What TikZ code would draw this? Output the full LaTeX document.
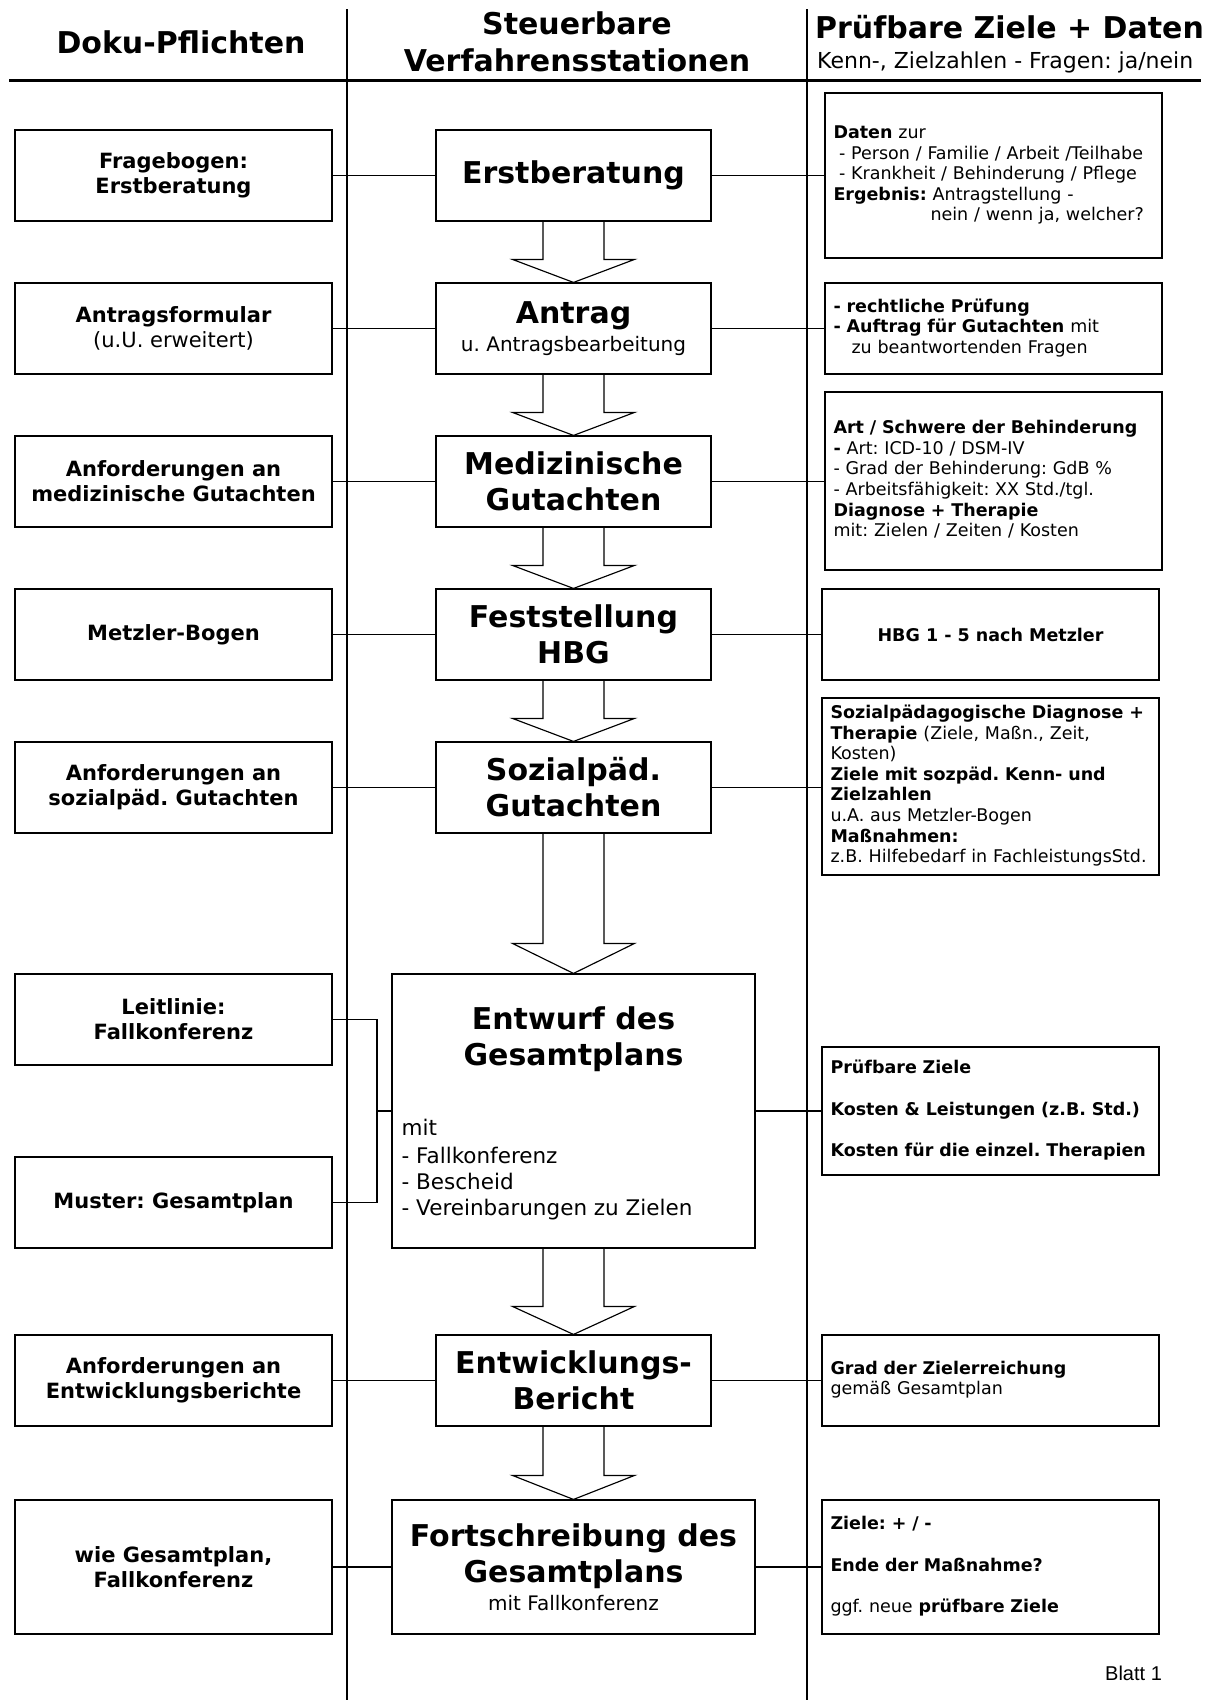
\documentclass[tikz,border=0pt]{standalone}
\usepackage{fontspec}
\setmainfont{DejaVu Sans}
\newfontfamily\arialf{Liberation Sans}
\usetikzlibrary{calc}
\frenchspacing
\newcommand\fHead{\fontsize{30}{37}\selectfont\bfseries}
\newcommand\fSub{\fontsize{22}{26}\selectfont}
\newcommand\fMid{\fontsize{30}{36}\selectfont\bfseries}
\newcommand\fMidSub{\fontsize{20}{24}\selectfont\mdseries}
\newcommand\fLeft{\fontsize{21}{25}\selectfont\bfseries}
\newcommand\fRight{\fontsize{17.5}{20.6}\selectfont}
\newcommand\fList{\fontsize{21.5}{26}\selectfont}
\newcommand\rtab[1]{\begin{tabular}{@{}l@{}}#1\end{tabular}}
\newcommand\blockarr[3]{%
  \draw[barrow] ($(#1.south)+(-30.5,0)$) -- ($(#2.north)+(-30.5,-#3)$)
    -- ($(#2.north)+(-61,-#3)$) -- (#2.north) -- ($(#2.north)+(61,-#3)$)
    -- ($(#2.north)+(30.5,-#3)$) -- ($(#1.south)+(30.5,0)$);}
\begin{document}
\frenchspacing
\begin{tikzpicture}[x=1pt,y=-1pt,
  box/.style={draw, line width=1.15pt, inner sep=0pt},
  lbox/.style={box, minimum width=317pt, minimum height=91pt, align=center, font=\fLeft},
  mbox/.style={box, minimum width=275pt, minimum height=91pt, align=center, font=\fMid},
  rbox/.style={box, text width=320pt, inner xsep=8.5pt, align=left, font=\fRight},
  txt/.style={inner sep=0pt},
  conn/.style={line width=1.2pt},
  colline/.style={line width=1.6pt},
  barrow/.style={line width=1.15pt, line join=miter}]
\fill[white] (0,0) rectangle (1211,1700);
\useasboundingbox (0,0) rectangle (1211,1700);

% column lines and header rule
\draw[colline] (347,9) -- (347,1700);
\draw[colline] (807,9) -- (807,1700);
\draw[line width=3pt] (9,80) -- (1201,80);

% headers
\node[txt, font=\fHead, anchor=base] (h1) at (181,53.5) {Doku-Pflichten};
\node[txt, font=\fHead, align=center] (h2) at (577,41.6) {Steuerbare\\Verfahrensstationen};
\node[txt, font=\fHead, anchor=base west] (h3) at (815,38.5) {Prüfbare Ziele + Daten};
\node[txt, font=\fSub, anchor=base west] (h3b) at (817,68.7) {Kenn-, Zielzahlen - Fragen: ja/nein};

% left column
\node[lbox] (l1) at (173.5,175.5) {Fragebogen:\\Erstberatung};
\node[lbox] (l2) at (173.5,328.5) {Antragsformular\\{\mdseries (u.U. erweitert)}};
\node[lbox] (l3) at (173.5,481.5) {Anforderungen an\\medizinische Gutachten};
\node[lbox] (l4) at (173.5,634.5) {Metzler-Bogen};
\node[lbox] (l5) at (173.5,787.5) {Anforderungen an\\sozialpäd. Gutachten};
\node[lbox] (lL) at (173.5,1019.5) {Leitlinie:\\Fallkonferenz};
\node[lbox] (lM) at (173.5,1202.5) {Muster: Gesamtplan};
\node[lbox] (lE) at (173.5,1380.5) {Anforderungen an\\Entwicklungsberichte};
\node[lbox, minimum height=134pt] (lW) at (173.5,1567) {wie Gesamtplan,\\Fallkonferenz};

% middle column
\node[mbox] (m1) at (573.5,175.5) {Erstberatung};
\node[mbox] (m2) at (573.5,328.5) {Antrag\\[-8.5pt]{\fMidSub u. Antragsbearbeitung}};
\node[mbox] (m3) at (573.5,481.5) {Medizinische\\Gutachten};
\node[mbox] (m4) at (573.5,634.5) {Feststellung\\HBG};
\node[mbox] (m5) at (573.5,787.5) {Sozialpäd.\\Gutachten};
\node[box, minimum width=363pt, minimum height=274pt] (ent) at (573.5,1111) {};
\node[txt, font=\fMid, align=center, text depth=0pt] (entT) at ($(ent.north)+(0,63)$) {Entwurf des\\Gesamtplans};
\node[txt, font=\fList, align=left, anchor=north west] (entL) at ($(ent.west)+(10,8)$)
  {mit\\[2pt]- Fallkonferenz\\- Bescheid\\- Vereinbarungen zu Zielen};
\node[mbox] (mE) at (573.5,1380.5) {Entwicklungs-\\Bericht};
\node[mbox, minimum width=363pt, minimum height=134pt] (mF) at (573.5,1567)
  {Fortschreibung des\\Gesamtplans\\[-8.5pt]{\fMidSub mit Fallkonferenz}};

% right column
\node[rbox, minimum height=165pt] (r1) at (993.5,175.5) {\rtab{\textbf{Daten} zur\\
  \hspace{5.5pt}- Person / Familie / Arbeit /Teilhabe\\
  \hspace{5.5pt}- Krankheit / Behinderung / Pflege\\
  \textbf{Ergebnis:} Antragstellung -\\
  \hspace{97pt}nein / wenn ja, welcher?}};
\node[rbox, minimum height=91pt] (r2) at (993.5,328.5) {\rtab{\textbf{- rechtliche Prüfung}\\
  \textbf{- Auftrag für Gutachten} mit\\
  \hspace{18pt}zu beantwortenden Fragen}};
\node[rbox, minimum height=178pt] (r3) at (993.5,481) {\rtab{\textbf{Art / Schwere der Behinderung}\\
  \textbf{-} Art: ICD-10 / DSM-IV\\
  - Grad der Behinderung: GdB \%\\
  - Arbeitsfähigkeit: XX Std./tgl.\\
  \textbf{Diagnose + Therapie}\\
  mit: Zielen / Zeiten / Kosten}};
\node[box, minimum width=337pt, minimum height=91pt, font=\fRight\bfseries] (r4) at (990.5,634.5) {HBG 1 - 5 nach Metzler};
\node[rbox, minimum height=177pt] (r5) at (990.5,786.5) {\rtab{\textbf{Sozialpädagogische Diagnose +}\\
  \textbf{Therapie} (Ziele, Maßn., Zeit,\\
  Kosten)\\
  \textbf{Ziele mit sozpäd. Kenn- und}\\
  \textbf{Zielzahlen}\\
  u.A. aus Metzler-Bogen\\
  \textbf{Maßnahmen:}\\
  z.B. Hilfebedarf in FachleistungsStd.}};
\node[rbox, minimum height=128pt] (rP) at (990.5,1111) {\rtab{\textbf{Prüfbare Ziele}\\[21.1pt]
  \textbf{Kosten \& Leistungen (z.B. Std.)}\\[21.1pt]
  \textbf{Kosten für die einzel. Therapien}}};
\node[rbox, minimum height=91pt] (rE) at (990.5,1380.5) {\rtab{\textbf{Grad der Zielerreichung}\\
  gemäß Gesamtplan}};
\node[rbox, minimum height=134pt] (rF) at (990.5,1567) {\rtab{\textbf{Ziele: + / -}\\[21.1pt]
  \textbf{Ende der Maßnahme?}\\[21.1pt]
  ggf. neue \textbf{prüfbare Ziele}}};

% connectors
\foreach \i in {1,...,5} {
  \draw[conn] (l\i.east) -- (m\i.west);
  \draw[conn] (m\i.east) -- (m\i.east -| r\i.west);
}
\coordinate (jn) at (377,1111);
\draw[conn] (lL.east) -| (jn) -- (ent.west);
\draw[conn] (lM.east) -| (jn);
\draw[conn] (ent.east) -- (rP.west);
\draw[conn] (lE.east) -- (mE.west);
\draw[conn] (mE.east) -- (rE.west);
\draw[conn] (lW.east) -- (mF.west);
\draw[conn] (mF.east) -- (rF.west);

% block arrows
\blockarr{m1}{m2}{23}
\blockarr{m2}{m3}{23}
\blockarr{m3}{m4}{23}
\blockarr{m4}{m5}{23}
\blockarr{m5}{ent}{30}
\blockarr{ent}{mE}{28}
\blockarr{mE}{mF}{24}

\node[txt, font=\arialf\fontsize{20}{24}\selectfont, anchor=base west] (blatt) at (1105,1680) {Blatt 1};
\end{tikzpicture}
\end{document}
